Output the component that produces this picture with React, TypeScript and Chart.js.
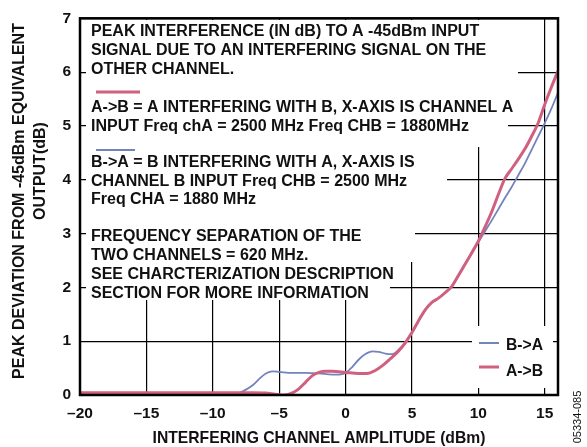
import React, { useEffect, useRef } from "react";
import { Chart, registerables } from "chart.js";
Chart.register(...registerables);

const xTicks = [-20, -15, -10, -5, 0, 5, 10, 15];
const yTicks = [0, 1, 2, 3, 4, 5, 6, 7];

// A->B (red)
const abX = [-20, -10, -7, -6, -5.3, -4.6, -4, -3.5, -3, -2.5, -2, -1.5, -1, 0, 1, 1.6, 2.2, 2.8, 3.4, 4, 4.5, 5, 5.5, 6, 6.5, 7, 7.5, 8, 8.5, 9, 9.5, 10, 10.5, 11, 11.5, 12, 12.5, 13, 13.5, 14, 14.5, 15, 15.5, 16];
const abY = [0.04, 0.04, 0.04, 0.035, 0.015, 0.0, 0.04, 0.12, 0.24, 0.36, 0.42, 0.44, 0.44, 0.42, 0.4, 0.4, 0.45, 0.55, 0.68, 0.82, 0.97, 1.16, 1.38, 1.58, 1.72, 1.8, 1.9, 2.02, 2.22, 2.43, 2.64, 2.86, 3.12, 3.4, 3.72, 4.02, 4.2, 4.38, 4.57, 4.8, 5.05, 5.4, 5.72, 6.02];

// B->A (blue)
const baX = [-20, -10, -8.5, -8, -7.5, -7, -6.5, -6, -5.5, -5, -4, -3, -2, -1, -0.5, 0, 0.5, 1, 1.5, 2, 2.5, 3, 3.5, 4, 4.5, 5, 5.5, 6, 6.5, 7, 7.5, 8, 8.5, 9, 9.5, 10, 10.5, 11, 11.5, 12, 12.5, 13, 13.5, 14, 14.5, 15, 15.5, 16];
const baY = [0.02, 0.02, 0.02, 0.04, 0.1, 0.18, 0.3, 0.4, 0.44, 0.43, 0.41, 0.41, 0.4, 0.38, 0.38, 0.41, 0.52, 0.66, 0.76, 0.81, 0.8, 0.77, 0.76, 0.84, 0.98, 1.16, 1.38, 1.58, 1.72, 1.8, 1.9, 2.02, 2.22, 2.43, 2.64, 2.84, 3.04, 3.24, 3.45, 3.66, 3.86, 4.08, 4.3, 4.55, 4.8, 5.05, 5.32, 5.62];

const noteLines = [
  "PEAK INTERFERENCE (IN dB) TO A -45dBm INPUT",
  "SIGNAL DUE TO AN INTERFERING SIGNAL ON THE",
  "OTHER CHANNEL.",
];
const abLines = [
  "A->B = A INTERFERING WITH B, X-AXIS IS CHANNEL A",
  "INPUT Freq chA = 2500 MHz Freq CHB = 1880MHz",
];
const baLines = [
  "B->A = B INTERFERING WITH A, X-AXIS IS",
  "CHANNEL B INPUT Freq CHB = 2500 MHz",
  "Freq CHA = 1880 MHz",
];
const sepLines = [
  "FREQUENCY SEPARATION OF THE",
  "TWO CHANNELS = 620 MHz.",
  "SEE CHARCTERIZATION DESCRIPTION",
  "SECTION FOR MORE INFORMATION",
];
const yTitle = ["PEAK DEVIATION FROM -45dBm EQUIVALENT", "OUTPUT(dB)"];
const xTitle = "INTERFERING CHANNEL AMPLITUDE (dBm)";
const figId = "05334-085";

const RED = "#d0607f";
const BLUE = "#7383bd";
const FONT = '"Liberation Sans", Arial, Helvetica, sans-serif';

const overlay = {
  id: "overlay",
  beforeDatasetsDraw(chart: any) {
    const ctx = chart.ctx;
    ctx.save();
    ctx.fillStyle = "#fff";
    const masks = [
      [86, 20, 518, 100],
      [86, 100, 508, 147],
      [86, 147, 447, 222],
      [86, 222, 415, 262],
      [86, 262, 390, 300],
      [472, 326, 553, 388],
    ];
    masks.forEach(([x0, y0, x1, y1]) => ctx.fillRect(x0, y0, x1 - x0, y1 - y0));

    ctx.fillStyle = "#111";
    ctx.font = `bold 16px ${FONT}`;
    ctx.textBaseline = "middle";
    ctx.textAlign = "left";
    const tx = 91;
    noteLines.forEach((t, i) => ctx.fillText(t, tx, 32 + i * 19));
    abLines.forEach((t, i) => ctx.fillText(t, tx, 108 + i * 18.5));
    baLines.forEach((t, i) => ctx.fillText(t, tx, 163 + i * 18.5));
    sepLines.forEach((t, i) => ctx.fillText(t, tx, 237 + i * 18.7));

    ctx.lineCap = "butt";
    ctx.strokeStyle = RED;
    ctx.lineWidth = 3;
    ctx.beginPath();
    ctx.moveTo(96, 92);
    ctx.lineTo(140, 92);
    ctx.stroke();
    ctx.strokeStyle = BLUE;
    ctx.lineWidth = 2;
    ctx.beginPath();
    ctx.moveTo(96, 150);
    ctx.lineTo(135, 150);
    ctx.stroke();

    // legend
    ctx.strokeStyle = BLUE;
    ctx.lineWidth = 2;
    ctx.beginPath();
    ctx.moveTo(479, 343);
    ctx.lineTo(499, 343);
    ctx.stroke();
    ctx.strokeStyle = RED;
    ctx.lineWidth = 3;
    ctx.beginPath();
    ctx.moveTo(479, 367);
    ctx.lineTo(499, 367);
    ctx.stroke();
    ctx.fillStyle = "#111";
    ctx.font = `bold 15.7px ${FONT}`;
    ctx.fillText("B->A", 506, 346);
    ctx.fillText("A->B", 506, 371.5);
    ctx.restore();
  },
  afterDraw(chart: any) {
    const ctx = chart.ctx;
    const a = chart.chartArea;
    ctx.save();
    ctx.strokeStyle = "#000";
    ctx.lineWidth = 2.5;
    ctx.strokeRect(a.left, a.top, a.right - a.left, a.bottom - a.top);

    ctx.fillStyle = "#111";
    ctx.font = `bold 15.7px ${FONT}`;
    ctx.textAlign = "center";
    ctx.textBaseline = "middle";
    ctx.fillText(xTitle, 319, 439);

    ctx.font = `bold 16px ${FONT}`;
    ctx.save();
    ctx.translate(20, 201);
    ctx.rotate(-Math.PI / 2);
    ctx.fillText(yTitle[0], 0, 0);
    ctx.restore();
    ctx.save();
    ctx.translate(41, 171);
    ctx.rotate(-Math.PI / 2);
    ctx.fillText(yTitle[1], 0, 0);
    ctx.restore();

    ctx.save();
    ctx.font = `11px ${FONT}`;
    ctx.translate(578, 417);
    ctx.rotate(-Math.PI / 2);
    ctx.fillText(figId, 0, 0);
    ctx.restore();
    ctx.restore();
  },
};

export default function App() {
  const ref = useRef<HTMLCanvasElement | null>(null);
  useEffect(() => {
    if (!ref.current) return;
    const chart = new Chart(ref.current, {
      type: "line",
      data: {
        datasets: [
          {
            label: "A->B",
            data: abX.map((x, i) => ({ x, y: abY[i] })),
            borderColor: RED,
            borderWidth: 3,
            pointRadius: 0,
            cubicInterpolationMode: "monotone",
          },
          {
            label: "B->A",
            data: baX.map((x, i) => ({ x, y: baY[i] })),
            borderColor: BLUE,
            borderWidth: 1.8,
            pointRadius: 0,
            cubicInterpolationMode: "monotone",
          },
        ],
      },
      options: {
        animation: false,
        responsive: false,
        layout: { padding: { top: 14, right: 29, left: 0, bottom: 0 } },
        plugins: { legend: { display: false }, tooltip: { enabled: false } },
        scales: {
          x: {
            type: "linear",
            min: -20,
            max: 16,
            afterBuildTicks: (s: any) => {
              s.ticks = xTicks.map((v) => ({ value: v }));
            },
            afterFit: (s: any) => {
              s.height = 52;
            },
            grid: { color: "#000", lineWidth: 1.2, drawTicks: false },
            border: { display: false },
            ticks: {
              padding: 9,
              color: "#111",
              font: { family: FONT, size: 15.5, weight: "bold" },
              maxRotation: 0,
              callback: (v: any) => (v < 0 ? "\u2013" + Math.abs(v) : String(v)),
            },
          },
          y: {
            type: "linear",
            min: 0,
            max: 7,
            afterBuildTicks: (s: any) => {
              s.ticks = yTicks.map((v) => ({ value: v }));
            },
            afterFit: (s: any) => {
              s.width = 80;
            },
            grid: { color: "#000", lineWidth: 1.2, drawTicks: false },
            border: { display: false },
            ticks: {
              padding: 9,
              color: "#111",
              font: { family: FONT, size: 15.5, weight: "bold" },
            },
          },
        },
      },
      plugins: [overlay],
    } as any);
    return () => chart.destroy();
  }, []);
  return (
    <div style={{ position: "fixed", left: 0, top: 0, width: 587, height: 447, background: "#fff" }}>
      <canvas ref={ref} width={587} height={447} />
    </div>
  );
}
